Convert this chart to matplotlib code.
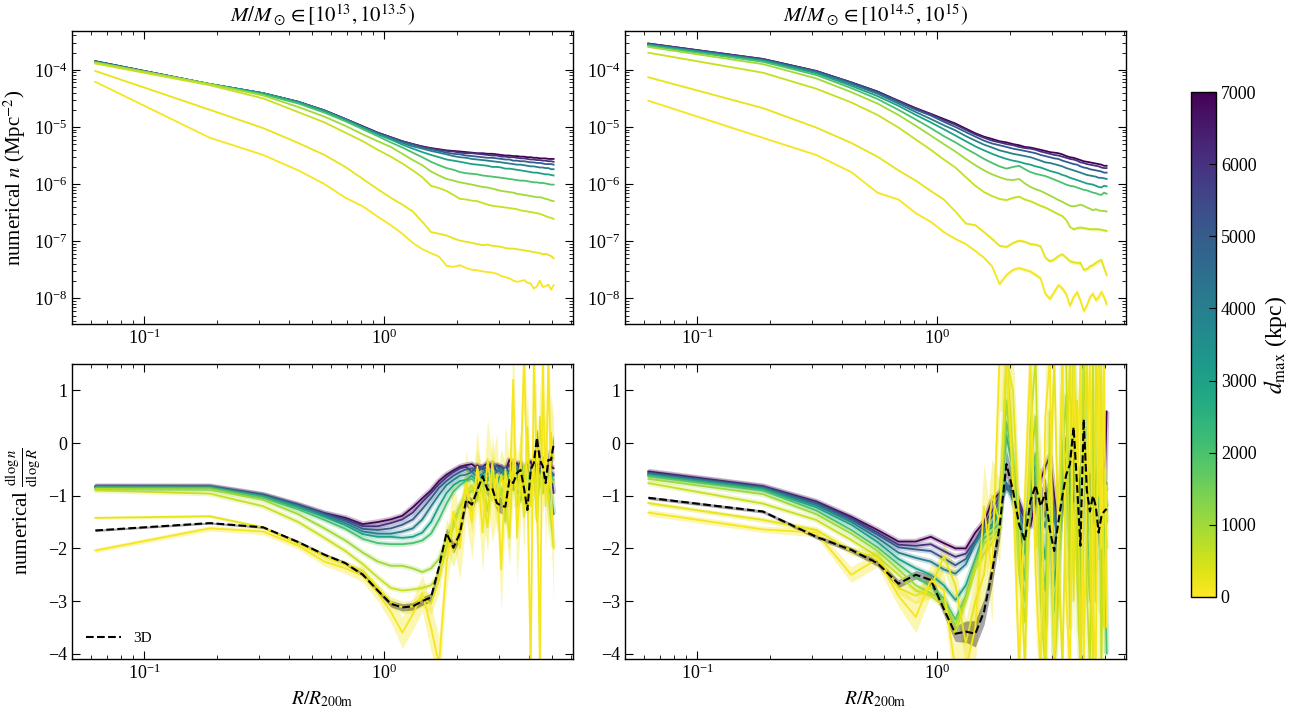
import numpy as np
import matplotlib
matplotlib.use('Agg')
import matplotlib.pyplot as plt
from matplotlib import colors, cm

plt.rcParams['font.family'] = ['Liberation Serif', 'DejaVu Serif']
plt.rcParams['mathtext.fontset'] = 'stix'
plt.rcParams['axes.linewidth'] = 1.0

# radial bins (R / R200m)
R = [0.0625, 0.1875, 0.3125, 0.4375, 0.5625, 0.6875, 0.8125, 0.9375, 1.0625, 1.1875,
     1.3125, 1.4375, 1.5625, 1.6875, 1.8125, 1.9375, 2.0625, 2.1875, 2.3125, 2.4375,
     2.5625, 2.6875, 2.8125, 2.9375, 3.0625, 3.1875, 3.3125, 3.4375, 3.5625, 3.6875,
     3.8125, 3.9375, 4.0625, 4.1875, 4.3125, 4.4375, 4.5625, 4.6875, 4.8125, 4.9375, 5.0625]

# projection depth of each curve (kpc)
dmax = [100, 250, 600, 1000, 2000, 3000, 4000, 5000, 6000, 7000]

# log10 n (Mpc^-2), low mass bin, one row per dmax
logn_lo = [
    [-4.21, -5.19, -5.49, -5.76, -6.00, -6.24, -6.39, -6.57, -6.72, -6.87, -7.03, -7.14, -7.21, -7.27, -7.43, -7.45, -7.42, -7.47, -7.50, -7.51, -7.53, -7.54, -7.55, -7.57, -7.61, -7.63, -7.65, -7.69, -7.71, -7.70, -7.68, -7.73, -7.74, -7.83, -7.79, -7.69, -7.80, -7.79, -7.76, -7.85, -7.77],
    [-4.02, -4.70, -5.02, -5.28, -5.49, -5.70, -5.91, -6.09, -6.24, -6.36, -6.48, -6.66, -6.84, -6.87, -6.90, -6.95, -6.99, -7.01, -7.03, -7.05, -7.07, -7.06, -7.08, -7.09, -7.10, -7.12, -7.13, -7.13, -7.14, -7.15, -7.16, -7.17, -7.18, -7.19, -7.20, -7.21, -7.23, -7.22, -7.24, -7.26, -7.30],
    [-3.89, -4.27, -4.50, -4.74, -4.92, -5.10, -5.25, -5.40, -5.52, -5.64, -5.76, -5.88, -6.03, -6.07, -6.12, -6.19, -6.26, -6.27, -6.29, -6.30, -6.33, -6.36, -6.38, -6.39, -6.40, -6.41, -6.42, -6.43, -6.44, -6.46, -6.47, -6.48, -6.49, -6.50, -6.51, -6.52, -6.54, -6.56, -6.58, -6.59, -6.61],
    [-3.87, -4.25, -4.45, -4.65, -4.82, -4.98, -5.13, -5.25, -5.35, -5.47, -5.58, -5.67, -5.78, -5.85, -5.91, -5.94, -5.97, -5.99, -6.01, -6.03, -6.05, -6.06, -6.08, -6.10, -6.12, -6.13, -6.14, -6.15, -6.17, -6.18, -6.19, -6.20, -6.21, -6.22, -6.23, -6.23, -6.24, -6.26, -6.27, -6.29, -6.30],
    [-3.87, -4.25, -4.43, -4.59, -4.75, -4.90, -5.04, -5.16, -5.27, -5.36, -5.45, -5.53, -5.61, -5.67, -5.72, -5.75, -5.79, -5.81, -5.82, -5.83, -5.85, -5.86, -5.87, -5.88, -5.89, -5.90, -5.91, -5.92, -5.93, -5.94, -5.94, -5.95, -5.96, -5.97, -5.97, -5.98, -5.98, -5.99, -6.00, -6.01, -6.01],
    [-3.86, -4.25, -4.41, -4.57, -4.72, -4.87, -5.01, -5.13, -5.22, -5.31, -5.38, -5.44, -5.49, -5.53, -5.57, -5.59, -5.61, -5.63, -5.65, -5.66, -5.67, -5.68, -5.70, -5.70, -5.71, -5.73, -5.73, -5.74, -5.75, -5.76, -5.77, -5.78, -5.79, -5.80, -5.80, -5.81, -5.82, -5.83, -5.83, -5.84, -5.85],
    [-3.86, -4.25, -4.41, -4.56, -4.72, -4.87, -5.01, -5.12, -5.20, -5.28, -5.34, -5.38, -5.42, -5.45, -5.48, -5.51, -5.53, -5.54, -5.56, -5.57, -5.58, -5.59, -5.60, -5.61, -5.62, -5.63, -5.64, -5.65, -5.66, -5.66, -5.67, -5.68, -5.69, -5.69, -5.70, -5.71, -5.71, -5.72, -5.72, -5.74, -5.74],
    [-3.85, -4.25, -4.41, -4.56, -4.72, -4.87, -5.00, -5.11, -5.19, -5.26, -5.31, -5.36, -5.39, -5.42, -5.45, -5.47, -5.48, -5.50, -5.51, -5.52, -5.53, -5.54, -5.54, -5.55, -5.56, -5.57, -5.57, -5.59, -5.59, -5.60, -5.60, -5.61, -5.62, -5.62, -5.63, -5.63, -5.64, -5.65, -5.65, -5.65, -5.66],
    [-3.85, -4.25, -4.41, -4.56, -4.71, -4.86, -4.99, -5.10, -5.18, -5.25, -5.30, -5.35, -5.38, -5.40, -5.42, -5.43, -5.45, -5.46, -5.46, -5.47, -5.48, -5.49, -5.50, -5.50, -5.52, -5.52, -5.53, -5.53, -5.54, -5.55, -5.55, -5.56, -5.57, -5.57, -5.58, -5.58, -5.59, -5.59, -5.60, -5.60, -5.61],
    [-3.85, -4.25, -4.41, -4.56, -4.71, -4.86, -4.99, -5.10, -5.18, -5.25, -5.30, -5.34, -5.37, -5.39, -5.41, -5.42, -5.43, -5.44, -5.45, -5.46, -5.46, -5.47, -5.47, -5.48, -5.49, -5.50, -5.50, -5.51, -5.51, -5.52, -5.52, -5.53, -5.53, -5.54, -5.54, -5.55, -5.55, -5.55, -5.56, -5.56, -5.56],
]

# log10 n (Mpc^-2), high mass bin
logn_hi = [
    [-4.54, -5.19, -5.49, -5.79, -6.15, -6.27, -6.51, -6.66, -6.84, -6.96, -7.05, -7.17, -7.29, -7.44, -7.75, -7.59, -7.50, -7.47, -7.50, -7.53, -7.59, -7.65, -7.92, -8.01, -7.89, -7.77, -7.83, -7.93, -8.13, -7.98, -7.89, -8.04, -8.22, -8.13, -7.98, -7.92, -8.03, -7.98, -7.89, -7.98, -8.10],
    [-4.13, -4.67, -5.01, -5.28, -5.52, -5.76, -5.94, -6.12, -6.27, -6.48, -6.69, -6.72, -6.84, -6.96, -7.08, -7.10, -7.03, -6.99, -7.01, -7.05, -7.06, -7.09, -7.29, -7.35, -7.32, -7.26, -7.23, -7.29, -7.35, -7.37, -7.38, -7.38, -7.50, -7.49, -7.44, -7.42, -7.38, -7.35, -7.33, -7.47, -7.59],
    [-3.70, -4.05, -4.33, -4.57, -4.79, -5.01, -5.22, -5.40, -5.57, -5.71, -5.88, -6.03, -6.14, -6.21, -6.26, -6.28, -6.24, -6.22, -6.27, -6.30, -6.34, -6.38, -6.41, -6.45, -6.49, -6.53, -6.56, -6.63, -6.75, -6.79, -6.77, -6.76, -6.77, -6.78, -6.79, -6.79, -6.79, -6.79, -6.80, -6.81, -6.82],
    [-3.60, -3.90, -4.15, -4.39, -4.59, -4.79, -4.98, -5.15, -5.30, -5.43, -5.56, -5.67, -5.76, -5.83, -5.88, -5.92, -5.93, -5.91, -5.99, -6.05, -6.09, -6.12, -6.16, -6.20, -6.24, -6.28, -6.31, -6.35, -6.38, -6.39, -6.38, -6.36, -6.38, -6.41, -6.43, -6.46, -6.44, -6.46, -6.47, -6.47, -6.48],
    [-3.58, -3.86, -4.09, -4.32, -4.51, -4.70, -4.87, -5.02, -5.16, -5.27, -5.38, -5.47, -5.56, -5.63, -5.69, -5.73, -5.70, -5.68, -5.74, -5.79, -5.82, -5.84, -5.86, -5.89, -5.92, -5.95, -5.98, -6.01, -6.03, -6.04, -6.06, -6.08, -6.10, -6.11, -6.13, -6.15, -6.16, -6.18, -6.19, -6.15, -6.17],
    [-3.56, -3.84, -4.06, -4.28, -4.46, -4.63, -4.79, -4.92, -5.04, -5.15, -5.25, -5.34, -5.41, -5.47, -5.52, -5.56, -5.59, -5.61, -5.64, -5.66, -5.69, -5.71, -5.74, -5.77, -5.79, -5.81, -5.84, -5.86, -5.89, -5.91, -5.93, -5.95, -5.97, -5.99, -6.00, -6.01, -6.03, -6.05, -6.06, -6.03, -6.04],
    [-3.56, -3.83, -4.04, -4.25, -4.42, -4.59, -4.74, -4.86, -4.97, -5.06, -5.16, -5.24, -5.31, -5.36, -5.41, -5.44, -5.47, -5.49, -5.51, -5.53, -5.56, -5.59, -5.62, -5.63, -5.65, -5.67, -5.69, -5.72, -5.74, -5.76, -5.78, -5.80, -5.82, -5.84, -5.85, -5.86, -5.87, -5.89, -5.89, -5.90, -5.91],
    [-3.55, -3.82, -4.03, -4.23, -4.40, -4.56, -4.70, -4.80, -4.91, -5.00, -5.09, -5.17, -5.24, -5.29, -5.32, -5.35, -5.38, -5.40, -5.42, -5.44, -5.46, -5.49, -5.51, -5.53, -5.55, -5.56, -5.59, -5.61, -5.63, -5.65, -5.66, -5.69, -5.71, -5.72, -5.74, -5.75, -5.76, -5.77, -5.78, -5.80, -5.80],
    [-3.54, -3.81, -4.02, -4.22, -4.38, -4.55, -4.68, -4.78, -4.88, -4.96, -5.05, -5.13, -5.19, -5.24, -5.27, -5.30, -5.32, -5.35, -5.37, -5.38, -5.40, -5.43, -5.45, -5.47, -5.49, -5.50, -5.52, -5.54, -5.56, -5.57, -5.59, -5.62, -5.63, -5.65, -5.66, -5.67, -5.68, -5.69, -5.71, -5.72, -5.72],
    [-3.54, -3.81, -4.02, -4.22, -4.38, -4.54, -4.67, -4.77, -4.86, -4.94, -5.03, -5.11, -5.17, -5.21, -5.25, -5.27, -5.30, -5.32, -5.35, -5.36, -5.38, -5.40, -5.42, -5.44, -5.45, -5.46, -5.48, -5.51, -5.53, -5.54, -5.56, -5.58, -5.60, -5.61, -5.62, -5.63, -5.64, -5.65, -5.66, -5.68, -5.68],
]

# scatter (dex) of the three smallest dmax curves, high mass bin
errn_hi_100 = [0.01, 0.01, 0.01, 0.01, 0.01, 0.015, 0.015, 0.015, 0.02, 0.02, 0.02, 0.02, 0.025, 0.025, 0.03, 0.03, 0.03, 0.03, 0.03, 0.035, 0.035, 0.035, 0.04, 0.04, 0.04, 0.04, 0.04, 0.045, 0.045, 0.045, 0.045, 0.05, 0.05, 0.05, 0.05, 0.05, 0.05, 0.055, 0.055, 0.055, 0.055]
errn_hi_250 = [0.005, 0.005, 0.005, 0.01, 0.01, 0.01, 0.01, 0.01, 0.015, 0.015, 0.015, 0.015, 0.02, 0.02, 0.02, 0.02, 0.02, 0.025, 0.025, 0.025, 0.025, 0.025, 0.03, 0.03, 0.03, 0.03, 0.03, 0.03, 0.035, 0.035, 0.035, 0.035, 0.035, 0.035, 0.04, 0.04, 0.04, 0.04, 0.04, 0.04, 0.04]
errn_hi_600 = [0.005, 0.005, 0.005, 0.005, 0.005, 0.005, 0.005, 0.005, 0.01, 0.01, 0.01, 0.01, 0.01, 0.01, 0.015, 0.015, 0.015, 0.015, 0.015, 0.015, 0.015, 0.02, 0.02, 0.02, 0.02, 0.02, 0.02, 0.02, 0.02, 0.025, 0.025, 0.025, 0.025, 0.025, 0.025, 0.025, 0.025, 0.025, 0.025, 0.025, 0.025]

# dlog n / dlog R, low mass bin
slope_lo = [
    [-2.04, -1.62, -1.68, -1.95, -2.25, -2.38, -2.52, -2.85, -3.20, -3.60, -3.25, -2.85, -3.50, -4.20, -2.30, -1.30, -2.00, -0.80, -1.50, -0.45, -1.70, -0.30, -1.10, -0.60, -2.40, -0.50, -1.20, 1.20, -1.80, -0.60, 1.60, -0.80, -4.30, 1.60, -0.50, -4.30, 1.60, -1.20, 1.60, -0.80, -2.00],
    [-1.42, -1.39, -1.60, -1.90, -2.15, -2.30, -2.42, -2.75, -3.02, -3.12, -3.10, -2.95, -3.05, -2.60, -1.75, -2.05, -1.55, -0.75, -1.30, -0.50, -0.95, -1.60, -0.35, -1.20, -0.60, -1.00, -1.80, -0.30, -0.90, -0.40, -1.40, 0.30, -1.20, -0.20, -1.50, 0.50, -0.60, -0.10, -1.10, 0.20, -0.30],
    [-0.90, -0.96, -1.20, -1.50, -1.80, -2.05, -2.30, -2.55, -2.75, -2.80, -2.78, -2.75, -2.70, -2.50, -2.00, -1.60, -1.20, -0.95, -0.80, -1.10, -0.70, -1.30, -0.60, -1.20, -0.85, -1.50, -0.70, -0.50, -1.20, -0.90, -0.40, -1.30, -0.80, -0.50, -1.40, -0.60, -0.90, -0.30, -1.00, -1.50, -1.97],
    [-0.87, -0.88, -1.08, -1.35, -1.62, -1.85, -2.08, -2.25, -2.33, -2.33, -2.38, -2.45, -2.38, -2.20, -1.85, -1.50, -1.20, -1.00, -0.90, -0.95, -0.78, -0.95, -0.70, -0.85, -1.00, -0.75, -0.90, -0.68, -0.85, -1.10, -0.72, -0.90, -0.80, -0.60, -0.85, -0.70, -0.95, -0.65, -0.80, -0.70, -0.75],
    [-0.86, -0.86, -1.04, -1.26, -1.46, -1.63, -1.82, -1.90, -1.92, -1.92, -1.90, -1.85, -1.72, -1.45, -1.15, -0.92, -0.80, -0.72, -0.68, -0.78, -0.65, -0.72, -0.60, -0.78, -0.65, -0.70, -0.60, -0.75, -0.62, -0.80, -0.68, -0.60, -0.72, -0.65, -0.58, -0.75, -0.62, -0.70, -0.60, -0.65, -0.70],
    [-0.85, -0.85, -1.02, -1.22, -1.40, -1.56, -1.73, -1.78, -1.78, -1.80, -1.78, -1.70, -1.50, -1.20, -0.95, -0.80, -0.72, -0.70, -0.62, -0.72, -0.60, -0.68, -0.55, -0.72, -0.60, -0.55, -0.70, -0.58, -0.65, -0.75, -0.55, -0.62, -0.70, -0.58, -0.75, -0.60, -0.68, -0.55, -0.80, -1.00, -1.35],
    [-0.84, -0.85, -1.01, -1.20, -1.38, -1.52, -1.68, -1.72, -1.72, -1.68, -1.62, -1.45, -1.20, -0.98, -0.80, -0.70, -0.62, -0.60, -0.55, -0.65, -0.58, -0.50, -0.62, -0.55, -0.48, -0.65, -0.55, -0.60, -0.45, -0.58, -0.68, -0.50, -0.55, -0.62, -0.50, -0.58, -0.52, -0.65, -0.55, -0.60, -0.62],
    [-0.84, -0.84, -1.00, -1.19, -1.36, -1.48, -1.63, -1.65, -1.62, -1.55, -1.45, -1.25, -1.05, -0.85, -0.72, -0.62, -0.55, -0.50, -0.48, -0.55, -0.45, -0.60, -0.50, -0.42, -0.58, -0.48, -0.55, -0.40, -0.50, -0.62, -0.45, -0.55, -0.48, -0.60, -0.42, -0.52, -0.60, -0.45, -0.50, -0.55, -0.60],
    [-0.83, -0.83, -0.99, -1.18, -1.34, -1.45, -1.58, -1.58, -1.52, -1.45, -1.32, -1.12, -0.95, -0.78, -0.65, -0.55, -0.48, -0.45, -0.55, -0.42, -0.50, -0.45, -0.38, -0.55, -0.45, -0.50, -0.42, -0.55, -0.45, -0.38, -0.60, -0.45, -0.50, -0.42, -0.55, -0.48, -0.45, -0.40, -0.55, -0.60, -0.95],
    [-0.82, -0.82, -0.98, -1.17, -1.33, -1.42, -1.54, -1.50, -1.45, -1.38, -1.22, -1.05, -0.90, -0.72, -0.60, -0.52, -0.45, -0.42, -0.40, -0.48, -0.45, -0.38, -0.50, -0.42, -0.45, -0.55, -0.32, -0.45, -0.38, -0.50, -0.55, -0.42, -0.35, -0.50, -0.42, -0.40, -0.38, -0.50, -0.42, -0.45, -0.48],
]
slope3d_lo = [-1.66, -1.52, -1.60, -1.88, -2.12, -2.28, -2.50, -2.80, -3.05, -3.12, -3.10, -3.00, -2.93, -2.35, -1.71, -1.99, -1.71, -1.08, -1.17, -0.89, -0.63, -0.89, -0.86, -1.14, -1.19, -1.21, -0.70, -0.76, -0.57, -0.51, -0.86, -1.27, -0.51, -0.38, 0.10, -0.32, -0.44, -0.76, -0.32, -0.32, -0.03]
errs_lo_3d = [0.02, 0.02, 0.02, 0.03, 0.03, 0.03, 0.04, 0.05, 0.06, 0.07, 0.07, 0.08, 0.08, 0.10, 0.10, 0.10, 0.12, 0.12, 0.12, 0.12, 0.12, 0.12, 0.12, 0.15, 0.15, 0.15, 0.15, 0.15, 0.15, 0.15, 0.18, 0.18, 0.18, 0.18, 0.18, 0.18, 0.20, 0.20, 0.20, 0.20, 0.20]
errs_lo_100 = [0.04, 0.05, 0.06, 0.07, 0.08, 0.10, 0.12, 0.15, 0.20, 0.30, 0.30, 0.35, 0.45, 0.50, 0.50, 0.60, 0.60, 0.65, 0.70, 0.70, 0.75, 0.75, 0.80, 0.80, 0.80, 0.85, 0.85, 0.90, 0.90, 0.90, 1.00, 1.00, 1.00, 1.00, 1.00, 1.00, 1.00, 1.00, 1.00, 1.00, 1.00]
errs_lo_250 = [0.02, 0.03, 0.03, 0.04, 0.05, 0.06, 0.07, 0.08, 0.10, 0.12, 0.12, 0.15, 0.20, 0.25, 0.30, 0.30, 0.35, 0.35, 0.40, 0.40, 0.45, 0.45, 0.50, 0.50, 0.50, 0.55, 0.55, 0.60, 0.60, 0.60, 0.65, 0.65, 0.70, 0.70, 0.70, 0.70, 0.75, 0.75, 0.75, 0.75, 0.75]

# dlog n / dlog R, high mass bin
slope_hi = [
    [-1.32, -1.64, -1.70, -2.50, -2.20, -2.90, -3.30, -2.60, -2.80, -4.30, -4.30, -3.50, -1.20, -2.50, 1.60, 1.60, -0.80, -4.30, -1.00, 1.60, -2.50, -4.30, 0.50, 1.60, -4.30, -1.50, 1.60, -3.00, -4.30, 1.60, -1.00, 1.60, -4.30, -0.50, 1.60, -3.00, -4.30, 1.60, -2.00, 1.60, -3.50],
    [-1.14, -1.46, -1.65, -2.05, -2.16, -2.75, -2.90, -2.75, -2.15, -2.70, -3.80, -3.00, -2.50, -1.00, -1.50, 1.60, 1.00, -1.50, -4.30, 0.20, -2.00, -0.50, -4.30, -1.00, 1.60, -2.00, -4.30, -0.50, 1.60, -3.00, 0.80, -4.30, -0.50, 1.60, -2.00, -4.30, 1.60, -1.00, 1.60, -3.50, -0.80],
    [-0.76, -1.15, -1.46, -1.84, -2.15, -2.50, -2.80, -2.90, -3.10, -3.60, -3.00, -2.40, -2.10, -1.90, -1.70, 1.60, -0.20, -2.50, -3.40, 0.30, 1.60, -3.00, -4.30, 0.60, -4.30, -3.00, 1.60, 1.60, -3.50, 1.60, -2.50, -4.30, 1.60, -2.80, -4.30, 1.60, -3.00, 1.60, -4.30, -0.80, -2.00],
    [-0.68, -0.97, -1.35, -1.72, -2.05, -2.40, -2.70, -2.85, -3.00, -3.45, -2.95, -2.30, -1.90, -1.80, -1.60, 0.80, -0.50, -2.20, -3.00, -0.50, 0.50, -2.50, -3.50, -0.80, -4.00, -2.70, -0.20, 0.90, -2.60, 1.60, -1.80, -3.60, 1.60, -2.00, -3.00, 0.30, -2.40, 1.00, -3.20, -0.50, -1.50],
    [-0.63, -0.90, -1.28, -1.65, -1.98, -2.30, -2.55, -2.72, -2.95, -3.35, -2.90, -2.30, -1.80, -1.70, -1.50, 0.40, -0.30, -1.80, -2.60, -0.70, -0.20, -2.00, -2.80, -1.00, -3.20, -2.30, -0.50, 0.10, -2.00, 0.80, -1.50, -3.00, 0.90, -1.60, -2.40, -0.20, -1.90, -0.50, -2.20, -1.00, -4.00],
    [-0.61, -0.88, -1.22, -1.55, -1.88, -2.20, -2.38, -2.50, -2.70, -2.98, -2.70, -2.20, -1.70, -1.60, -1.30, 0.15, -0.50, -1.50, -2.10, -0.90, -0.40, -1.60, -2.20, -1.20, -2.70, -1.90, -0.80, -0.30, -1.60, 0.20, -1.10, -2.70, 0.30, -1.30, -1.80, -0.60, -1.50, -0.80, -1.80, -1.20, -1.30],
    [-0.60, -0.87, -1.18, -1.50, -1.80, -2.08, -2.18, -2.25, -2.40, -2.48, -2.30, -1.90, -1.65, -1.55, -1.20, -0.75, -1.10, -1.45, -1.80, -1.00, -0.60, -1.30, -1.60, -1.00, -1.40, -2.00, -1.00, -0.60, -1.30, -0.30, -1.50, -0.90, -0.20, -1.00, -1.60, -0.70, -1.20, -0.50, -1.30, -1.00, -1.20],
    [-0.58, -0.85, -1.15, -1.46, -1.74, -1.98, -2.02, -2.05, -2.19, -2.32, -2.20, -1.90, -1.60, -1.40, -1.10, -0.85, -1.00, -1.30, -1.60, -1.25, -0.75, -1.10, -1.40, -0.90, -1.20, -1.70, -0.80, -0.50, -1.00, -0.40, -1.30, -0.70, -0.30, -1.10, -0.60, -1.50, -0.80, -0.50, -1.20, -0.80, -0.90],
    [-0.56, -0.83, -1.13, -1.43, -1.70, -1.93, -1.95, -1.92, -2.05, -2.16, -2.10, -1.85, -1.55, -1.30, -1.00, -0.80, -0.85, -1.10, -1.40, -1.20, -0.90, -1.30, -1.00, -0.80, -1.50, -1.30, -0.50, -1.00, -0.60, -1.10, -0.80, -0.90, -0.40, -1.20, -0.70, -1.40, -0.90, -0.60, -1.10, -0.75, -0.80],
    [-0.54, -0.82, -1.11, -1.40, -1.65, -1.87, -1.87, -1.78, -1.90, -2.00, -2.00, -1.70, -1.50, -1.10, -0.95, -0.82, -0.95, -1.20, -1.45, -1.59, -1.08, -0.70, -0.45, -0.25, -1.00, -1.68, -1.10, -0.80, -0.60, -0.55, -0.70, -0.85, -0.75, -0.90, -1.20, -1.15, -0.75, -1.20, -0.85, -1.25, 0.60],
]
slope3d_hi = [-1.04, -1.30, -1.78, -2.03, -2.28, -2.67, -2.50, -2.60, -3.15, -3.62, -3.58, -3.62, -3.20, -2.45, -1.60, -0.40, -0.90, -1.55, -1.85, -1.10, -0.80, -1.20, -0.95, -1.65, -2.05, -1.50, -1.00, -0.60, -0.40, 0.30, -0.80, -1.95, 0.45, -0.90, -1.30, -1.00, -1.20, -1.70, -1.40, -1.30, -1.25]
errs_hi_3d = [0.03, 0.03, 0.04, 0.05, 0.06, 0.08, 0.08, 0.10, 0.12, 0.15, 0.20, 0.25, 0.25, 0.25, 0.25, 0.25, 0.25, 0.25, 0.30, 0.30, 0.30, 0.30, 0.30, 0.30, 0.30, 0.30, 0.30, 0.30, 0.30, 0.30, 0.30, 0.30, 0.30, 0.30, 0.30, 0.30, 0.30, 0.30, 0.30, 0.30, 0.30]
errs_hi_100 = [0.06, 0.06, 0.08, 0.15, 0.15, 0.20, 0.30, 0.30, 0.35, 0.50, 0.60, 0.70, 0.80, 0.90, 1.00, 1.00, 1.00, 1.00, 1.00, 1.00, 1.00, 1.00, 1.00, 1.00, 1.00, 1.00, 1.00, 1.00, 1.00, 1.00, 1.00, 1.00, 1.00, 1.00, 1.00, 1.00, 1.00, 1.00, 1.00, 1.00, 1.00]
errs_hi_250 = [0.04, 0.05, 0.06, 0.08, 0.10, 0.12, 0.15, 0.20, 0.25, 0.35, 0.45, 0.50, 0.60, 0.70, 0.80, 0.80, 0.80, 0.80, 0.80, 0.80, 0.80, 0.80, 0.80, 0.80, 0.80, 0.80, 0.80, 0.80, 0.80, 0.80, 0.80, 0.80, 0.80, 0.80, 0.80, 0.80, 0.80, 0.80, 0.80, 0.80, 0.80]

titles = [r'$M/M_\odot \in [10^{13}, 10^{13.5})$', r'$M/M_\odot \in [10^{14.5}, 10^{15})$']

cmap = plt.get_cmap('viridis_r')
norm = colors.Normalize(vmin=0, vmax=7000)
R = np.array(R)

fig = plt.figure(figsize=(12.93, 7.09), dpi=100)
ax_tl = fig.add_axes([0.0557, 0.543, 0.3875, 0.4133])
ax_tr = fig.add_axes([0.4834, 0.543, 0.3875, 0.4133])
ax_bl = fig.add_axes([0.0557, 0.0705, 0.3875, 0.4161])
ax_br = fig.add_axes([0.4834, 0.0705, 0.3875, 0.4161])
cax = fig.add_axes([0.9211, 0.158, 0.0193, 0.7122])

# top row: projected number density
for ax, rows, bands in [(ax_tl, logn_lo, {}),
                        (ax_tr, logn_hi, {100: errn_hi_100, 250: errn_hi_250, 600: errn_hi_600})]:
    for i in range(len(dmax) - 1, -1, -1):
        c = cmap(norm(dmax[i]))
        L = np.array(rows[i])
        if dmax[i] in bands:
            e = np.array(bands[dmax[i]])
            ax.fill_between(R, 10**(L - e), 10**(L + e), color=c, alpha=0.35, lw=0)
        ax.plot(R, 10**L, color=c, lw=1.3)
    ax.set_xscale('log')
    ax.set_yscale('log')
    ax.set_ylim(10**-8.45, 10**-3.32)

# bottom row: logarithmic slope
for ax, rows, s3d, e3d, bands in [
        (ax_bl, slope_lo, slope3d_lo, errs_lo_3d, {100: errs_lo_100, 250: errs_lo_250}),
        (ax_br, slope_hi, slope3d_hi, errs_hi_3d, {100: errs_hi_100, 250: errs_hi_250})]:
    for i in range(len(dmax) - 1, -1, -1):
        c = cmap(norm(dmax[i]))
        s = np.array(rows[i])
        if dmax[i] in bands:
            e = np.array(bands[dmax[i]])
            ax.fill_between(R, s - e, s + e, color=c, alpha=0.35, lw=0)
        else:
            ax.plot(R, s, color=c, lw=4, alpha=0.25, solid_capstyle='butt')
        ax.plot(R, s, color=c, lw=1.3)
    s3d = np.array(s3d)
    e3d = np.array(e3d)
    ax.fill_between(R, s3d - e3d, s3d + e3d, color='k', alpha=0.35, lw=0)
    ax.plot(R, s3d, 'k--', lw=1.5, label='3D')
    ax.set_xscale('log')
    ax.set_ylim(-4.1, 1.5)
    ax.set_yticks([-4, -3, -2, -1, 0, 1])
    ax.set_xlabel(r'$R/R_{\rm 200m}$', fontsize=14)

for ax in [ax_tl, ax_tr, ax_bl, ax_br]:
    ax.set_xlim(0.05, 6.1)
    ax.tick_params(which='both', direction='in', top=True, right=True, labelsize=13)
    ax.tick_params(which='major', length=6)
    ax.tick_params(which='minor', length=3)

ax_tl.set_title(titles[0], fontsize=15)
ax_tr.set_title(titles[1], fontsize=15)
ax_tl.set_ylabel(r'numerical $n$ (Mpc$^{-2}$)', fontsize=15)
ax_bl.set_ylabel(r'numerical $\frac{{\rm d}\log n}{{\rm d}\log R}$', fontsize=15)
ax_bl.legend(loc='lower left', frameon=False, fontsize=11, handlelength=2.3)

cb = fig.colorbar(cm.ScalarMappable(norm=norm, cmap=cmap), cax=cax)
cb.set_ticks([0, 1000, 2000, 3000, 4000, 5000, 6000, 7000])
cb.ax.tick_params(direction='in', labelsize=13, length=5)
cb.set_label(r'$d_{\rm max}$ (kpc)', fontsize=17)

fig.savefig('out.png', dpi=100)
